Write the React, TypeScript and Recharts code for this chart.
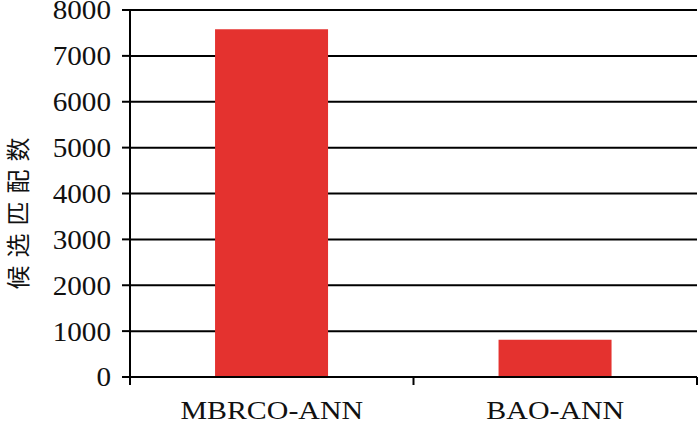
import React from 'react';
import { BarChart, Bar, XAxis, YAxis, CartesianGrid, Label } from 'recharts';

const categories = ['MBRCO-ANN', 'BAO-ANN'];
const candidateMatches = [7580, 810];
const yTicks = [0, 1000, 2000, 3000, 4000, 5000, 6000, 7000, 8000];
const yAxisTitle = '候选匹配数';

const data = categories.map((name, i) => ({ name, value: candidateMatches[i] }));

const FONT = "'Liberation Serif', 'Times New Roman', serif";

const XTick = (props: any) => {
  const { x, y, payload, index } = props;
  const half = payload && payload.offset ? payload.offset : 0;
  const axisY = y - 8;
  return (
    <g>
      <line x1={x - half} y1={axisY} x2={x - half} y2={axisY + 8} stroke="#000" strokeWidth={2} />
      {index === categories.length - 1 && (
        <line x1={x + half} y1={axisY} x2={x + half} y2={axisY + 8} stroke="#000" strokeWidth={2} />
      )}
      <text
        x={0}
        y={0}
        textAnchor="middle"
        transform={`translate(${x}, ${axisY + 42}) scale(1.15, 1)`}
        fontFamily={FONT}
        style={{ fontFamily: FONT, fontSize: 26 }}
        fill="#111"
      >
        {payload.value}
      </text>
    </g>
  );
};

const YTick = (props: any) => {
  const { x, y, payload } = props;
  return (
    <text
      x={0}
      y={0}
      textAnchor="end"
      dy="0.35em"
      transform={`translate(${x}, ${y}) scale(1.08, 1)`}
      fontFamily={FONT}
      style={{ fontFamily: FONT, fontSize: 27 }}
      fill="#111"
    >
      {payload.value}
    </text>
  );
};

const YTitle = (props: any) => {
  const { viewBox } = props;
  const cx = viewBox.x + 16;
  const cy = viewBox.y + viewBox.height / 2 + 16;
  return (
    <text
      x={cx}
      y={cy}
      textAnchor="middle"
      dominantBaseline="central"
      transform={`rotate(-90, ${cx}, ${cy})`}
      style={{ fontFamily: "'Noto Sans CJK SC', sans-serif", fontSize: 24, letterSpacing: 8 }}
      fill="#111"
    >
      {yAxisTitle}
    </text>
  );
};

export default function App() {
  return (
    <div style={{ position: 'absolute', left: 0, top: 0, width: 700, height: 423, background: '#fff' }}>
      <BarChart
        width={700}
        height={423}
        data={data}
        margin={{ top: 10, right: 3, bottom: 0, left: 0 }}
        barCategoryGap="30%"
      >
        <CartesianGrid horizontal={true} vertical={false} stroke="#000" strokeWidth={2} />
        <XAxis
          dataKey="name"
          height={46}
          axisLine={{ stroke: '#000', strokeWidth: 2 }}
          tickLine={false}
          tickSize={8}
          tickMargin={0}
          tick={<XTick />}
          interval={0}
        />
        <YAxis
          width={130}
          domain={[0, 8000]}
          ticks={yTicks}
          interval={0}
          axisLine={{ stroke: '#000', strokeWidth: 2 }}
          tickLine={{ stroke: '#000', strokeWidth: 2 }}
          tickSize={8}
          tickMargin={11}
          tick={<YTick />}
        >
          <Label content={<YTitle />} />
        </YAxis>
        <Bar dataKey="value" fill="#e4322f" isAnimationActive={false} />
      </BarChart>
    </div>
  );
}
